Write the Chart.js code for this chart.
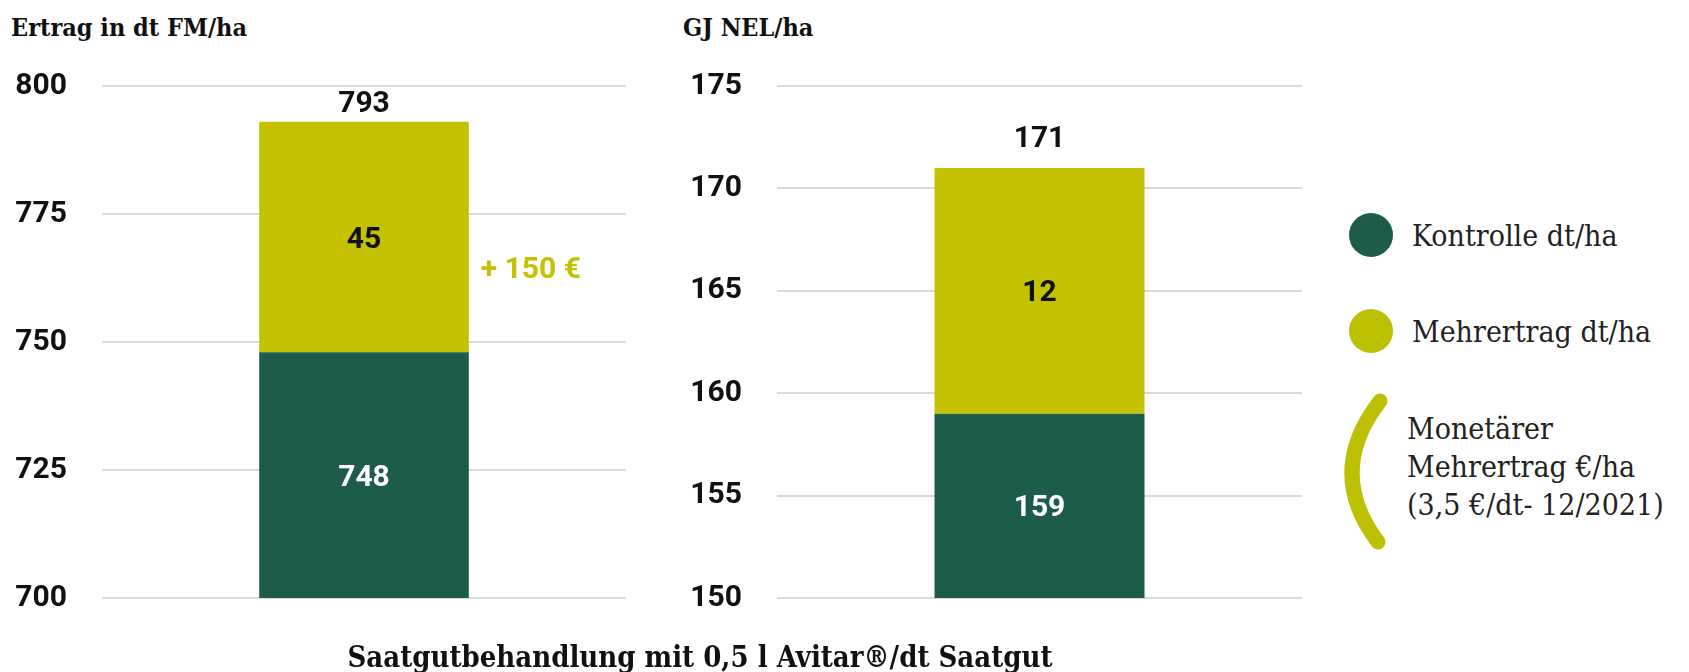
<!DOCTYPE html>
<html>
<head>
<meta charset="utf-8">
<script src="https://cdn.jsdelivr.net/npm/chart.js@4.4.1/dist/chart.umd.min.js"></script>
<style>
  html, body { margin: 0; padding: 0; background: #ffffff; }
  body { width: 1689px; height: 672px; position: relative; overflow: hidden; }
  .slab { font-family: "DejaVu Serif Condensed", "DejaVu Serif", serif; font-stretch: condensed; }
  .title { position: absolute; font-weight: bold; font-size: 25px; color: #111; white-space: nowrap; line-height: 1; }
  #wrapL { position: absolute; left: 0; top: 0; width: 640px; height: 651px; }
  #wrapR { position: absolute; left: 640px; top: 0; width: 680px; height: 651px; }
  .leg { position: absolute; font-size: 30px; color: #222; white-space: nowrap; line-height: 38px; }
  .dot { position: absolute; width: 44px; height: 44px; border-radius: 50%; }
</style>
</head>
<body>
<div class="title slab" id="tL" style="left:11px; top:15px;">Ertrag in dt FM/ha</div>
<div class="title slab" id="tR" style="left:683px; top:15px;">GJ NEL/ha</div>
<div id="wrapL"><canvas id="cL"></canvas></div>
<div id="wrapR"><canvas id="cR"></canvas></div>
<div class="title slab" id="tB" style="left:0; width:1400px; text-align:center; top:643px; font-size:29px;">Saatgutbehandlung mit 0,5 l Avitar®/dt Saatgut</div>

<div class="dot" style="left:1349px; top:213px; background:#1d5b4b;"></div>
<div class="leg slab" style="left:1412px; top:217px;">Kontrolle dt/ha</div>
<div class="dot" style="left:1349px; top:309px; background:#bdc000;"></div>
<div class="leg slab" style="left:1412px; top:313px;">Mehrertrag dt/ha</div>
<svg style="position:absolute; left:1320px; top:380px;" width="80" height="180">
  <path d="M60 21 Q 5 92 58 162" fill="none" stroke="#bdc000" stroke-width="15" stroke-linecap="round"/>
</svg>
<div class="leg slab" style="left:1407px; top:410px;">Monetärer<br>Mehrertrag €/ha<br>(3,5 €/dt- 12/2021)</div>

<script>
// ---- data ----
const categories = ["Saatgutbehandlung mit 0,5 l Avitar®/dt Saatgut"];
const seriesNames = ["Kontrolle dt/ha", "Mehrertrag dt/ha"];
const ertragKontrolle = [748];
const ertragMehr = [45];
const ertragTotal = [793];
const ertragTicks = [700, 725, 750, 775, 800];
const nelKontrolle = [159];
const nelMehr = [12];
const nelTotal = [171];
const nelTicks = [150, 155, 160, 165, 170, 175];
const moneyLabel = ["+ 150 €"];

const GREEN = "#1d5b4b";
const YELLOW = "#c4c200";
const NUMFONT = "Roboto";
const DY = 3; // small vertical correction for text centering

function labelPlugin(totals, topOffset, extra) {
  return {
    id: 'labels',
    afterDatasetsDraw(chart) {
      const ctx = chart.ctx;
      ctx.save();
      ctx.textAlign = 'center';
      ctx.textBaseline = 'middle';
      const yScale = chart.scales.y;
      const m0 = chart.getDatasetMeta(0);
      const m1 = chart.getDatasetMeta(1);
      m0.data.forEach((bar, i) => {
        const bottom = Math.min(bar.base, yScale.bottom);
        const yMid = (bar.y + bottom) / 2;
        ctx.fillStyle = '#ffffff';
        ctx.font = 'bold 30px ' + NUMFONT;
        ctx.fillText(String(chart.data.datasets[0].data[i]), bar.x, yMid + DY);
      });
      m1.data.forEach((bar, i) => {
        const yMid = (bar.y + bar.base) / 2;
        ctx.fillStyle = '#111111';
        ctx.font = 'bold 30px ' + NUMFONT;
        ctx.fillText(String(chart.data.datasets[1].data[i]), bar.x, yMid + DY);
        ctx.fillText(String(totals[i]), bar.x, bar.y - topOffset + DY);
        if (extra) {
          ctx.textAlign = 'left';
          ctx.fillStyle = YELLOW;
          ctx.font = 'bold 30px ' + NUMFONT;
          ctx.fillText(extra[i], bar.x + bar.width / 2 + 12, yMid + 30 + DY);
          ctx.textAlign = 'center';
        }
      });
      ctx.restore();
    }
  };
}

function makeChart(id, k, m, totals, ticks, pad, yWidth, topOffset, extra) {
  const step = ticks[1] - ticks[0];
  return new Chart(document.getElementById(id), {
    type: 'bar',
    data: {
      labels: categories,
      datasets: [
        { label: seriesNames[0], data: k, backgroundColor: GREEN, stack: 's' },
        { label: seriesNames[1], data: m, backgroundColor: YELLOW, stack: 's' }
      ]
    },
    options: {
      responsive: true,
      maintainAspectRatio: false,
      animation: false,
      events: [],
      layout: { padding: pad },
      plugins: { legend: { display: false }, tooltip: { enabled: false } },
      datasets: { bar: { barPercentage: 0.4, categoryPercentage: 1.0 } },
      scales: {
        x: { display: false, stacked: true },
        y: {
          stacked: true,
          min: ticks[0],
          max: ticks[ticks.length - 1],
          afterBuildTicks(s) { s.ticks = ticks.map(v => ({ value: v })); },
          afterFit(s) { s.width = yWidth; },
          border: { display: false },
          grid: { color: '#d9d9d9', lineWidth: 2, drawTicks: false },
          ticks: { stepSize: step, padding: 35, color: '#111', font: { family: NUMFONT, weight: 'bold', size: 30 } }
        }
      }
    },
    plugins: [labelPlugin(totals, topOffset, extra)]
  });
}

makeChart('cL', ertragKontrolle, ertragMehr, ertragTotal, ertragTicks,
  { top: 86, bottom: 23, left: 0, right: 14 }, 102, 20, moneyLabel);
makeChart('cR', nelKontrolle, nelMehr, nelTotal, nelTicks,
  { top: 86, bottom: 23, left: 0, right: 18 }, 137, 31, null);
</script>
</body>
</html>
